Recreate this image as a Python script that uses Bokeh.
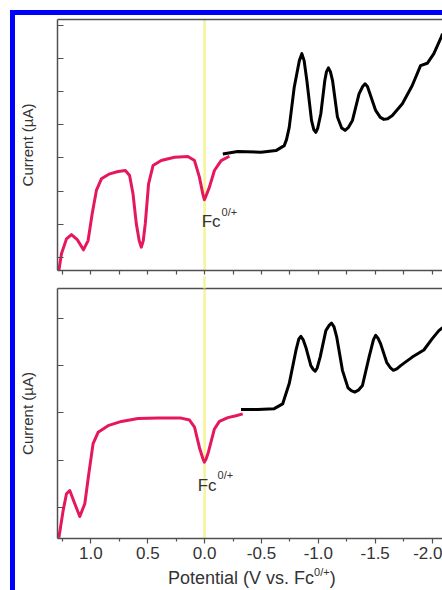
from bokeh.plotting import figure
from bokeh.layouts import column, row
from bokeh.models import Range1d, FixedTicker, LinearAxis, Span, Label, Div, Spacer
from bokeh.embed import file_html
from bokeh.resources import INLINE

FONT = "Liberation Sans"
RED = "#e5185d"
AXIS = "#505050"
TXT = "#333333"
BLUE = "#0000ff"
YELLOW = "#f6f39a"

# ---- data (potential V vs Fc0/+, current in arbitrary units) ----
top_red_v = [1.282, 1.259, 1.215, 1.171, 1.118, 1.066, 1.025, 0.989, 0.952, 0.908,
             0.835, 0.761, 0.697, 0.660, 0.630, 0.601, 0.575, 0.557, 0.540, 0.522, 0.493, 0.454,
             0.382, 0.265, 0.147, 0.089, 0.046, 0.015, 0.002, -0.012, -0.042, -0.086, -0.145, -0.218]
top_red_i = [-0.39, 0.11, 0.56, 0.69, 0.53, 0.23, 0.51, 1.32, 2.02, 2.37,
             2.52, 2.59, 2.62, 2.47, 1.92, 1.02, 0.50, 0.31, 0.50, 1.02, 2.22, 2.77,
             2.92, 3.02, 3.04, 2.92, 2.42, 1.90, 1.74, 1.85, 2.12, 2.62, 2.92, 3.05]

top_black_v = [-0.160, -0.291, -0.496, -0.627, -0.700, -0.720, -0.744, -0.788, -0.833, -0.855,
               -0.875, -0.899, -0.940, -0.960, -0.978, -0.995, -1.022, -1.057, -1.072, -1.089,
               -1.106, -1.125, -1.168, -1.205, -1.235, -1.265, -1.300, -1.358, -1.390, -1.411,
               -1.432, -1.454, -1.504, -1.545, -1.577, -1.610, -1.651, -1.739, -1.826, -1.899,
               -1.958, -2.016, -2.075, -2.092]
top_black_i = [3.12, 3.19, 3.17, 3.22, 3.37, 3.55, 3.92, 5.13, 5.93, 6.14,
               5.93, 5.33, 4.13, 3.85, 3.77, 3.90, 4.33, 5.33, 5.60, 5.71,
               5.60, 5.33, 4.23, 3.90, 3.83, 3.92, 4.13, 4.93, 5.15, 5.23,
               5.15, 4.93, 4.43, 4.22, 4.16, 4.18, 4.28, 4.63, 5.18, 5.78,
               5.85, 6.14, 6.59, 6.74]

bot_red_v = [1.282, 1.244, 1.215, 1.186, 1.142, 1.098, 1.054, 1.019, 0.981, 0.937,
             0.849, 0.732, 0.586, 0.411, 0.206, 0.133, 0.089, 0.046, 0.015, 0.002, -0.012, -0.033,
             -0.086, -0.130, -0.204, -0.276, -0.335]
bot_red_i = [-0.64, -0.06, 0.29, 0.36, 0.08, -0.19, 0.08, 0.71, 1.35, 1.59,
             1.73, 1.82, 1.88, 1.89, 1.89, 1.85, 1.70, 1.27, 1.03, 0.96, 1.02, 1.17,
             1.66, 1.82, 1.90, 1.94, 1.98]

bot_black_v = [-0.320, -0.467, -0.612, -0.686, -0.744, -0.803, -0.828, -0.846, -0.866, -0.890,
               -0.934, -0.955, -0.972, -0.990, -1.016, -1.066, -1.095, -1.116, -1.138, -1.162,
               -1.212, -1.261, -1.290, -1.320, -1.352, -1.388, -1.446, -1.485, -1.504, -1.525,
               -1.548, -1.601, -1.635, -1.660, -1.690, -1.724, -1.826, -1.928, -2.002, -2.060, -2.092]
bot_black_i = [2.07, 2.07, 2.09, 2.19, 2.62, 3.32, 3.56, 3.62, 3.55, 3.39,
               3.00, 2.92, 2.88, 2.95, 3.18, 3.74, 3.85, 3.90, 3.82, 3.60,
               2.90, 2.53, 2.47, 2.44, 2.48, 2.58, 3.18, 3.55, 3.64, 3.58,
               3.46, 3.07, 2.95, 2.90, 2.93, 3.00, 3.18, 3.33, 3.57, 3.74, 3.80]

x_major = [1.0, 0.5, 0.0, -0.5, -1.0, -1.5, -2.0]
x_labels = ["1.0", "0.5", "0.0", "-0.5", "-1.0", "-1.5", "-2.0"]
x_minor = [1.25, 0.75, 0.25, -0.25, -0.75, -1.25, -1.75]
top_yticks = [0, 1, 2, 3, 4, 5, 6, 7]
bot_yticks = [0, 1, 2, 3, 4]
fc_ref = [0.0]

X_LEFT, X_RIGHT = 1.294, -2.092
W = 427


def make_fig(height, yr, yticks, mbt, mbb, show_labels, gap_mark):
    p = figure(width=W, height=height,
               x_range=Range1d(X_LEFT, X_RIGHT), y_range=Range1d(*yr),
               output_backend="svg", toolbar_location=None,
               min_border_left=41, min_border_right=0,
               min_border_top=mbt, min_border_bottom=mbb)
    p.outline_line_color = None
    p.grid.visible = False
    p.background_fill_color = "white"
    p.border_fill_color = "white"

    xa = p.xaxis[0]
    if show_labels:
        xa.ticker = FixedTicker(ticks=x_major, minor_ticks=x_minor)
        xa.major_label_overrides = {v: s for v, s in zip(x_major, x_labels)}
        xa.major_label_text_font = FONT
        xa.major_label_text_font_size = "17px"
        xa.major_label_text_color = TXT
        xa.major_label_standoff = 3
        xa.major_tick_out = 5
    else:
        # label-less ticks: all drawn as minor ticks
        xa.ticker = FixedTicker(ticks=[], minor_ticks=x_major + x_minor)
        xa.major_tick_out = 0
        xa.major_label_standoff = 0
    xa.major_tick_in = 0
    xa.minor_tick_in = 0
    xa.minor_tick_out = 4 if not show_labels else 3
    xa.axis_line_color = AXIS
    xa.axis_line_width = 1.5
    xa.major_tick_line_color = AXIS
    xa.minor_tick_line_color = AXIS
    xa.major_tick_line_width = 1.2
    xa.minor_tick_line_width = 1.2

    ya = p.yaxis[0]
    ya.ticker = FixedTicker(ticks=[], minor_ticks=yticks)
    ya.major_tick_in = 0
    ya.major_tick_out = 0
    ya.minor_tick_in = 6
    ya.minor_tick_out = 0
    ya.minor_tick_line_color = AXIS
    ya.minor_tick_line_width = 1.2
    ya.axis_line_color = AXIS
    ya.axis_line_width = 1.5
    ya.axis_label = "Current (µA)"
    ya.axis_label_text_font = FONT
    ya.axis_label_text_font_size = "15px"
    ya.axis_label_text_font_style = "normal"
    ya.axis_label_text_color = TXT
    ya.axis_label_standoff = 22

    # top frame line; in the lower panel it also carries the yellow Fc marker across the gap
    top = LinearAxis(ticker=FixedTicker(ticks=[], minor_ticks=fc_ref if gap_mark else []),
                     major_tick_in=0, major_tick_out=0, major_label_standoff=0,
                     minor_tick_in=0, minor_tick_out=gap_mark,
                     minor_tick_line_color=YELLOW, minor_tick_line_width=2.5,
                     axis_line_color=AXIS, axis_line_width=1.5)
    p.add_layout(top, "above")

    p.add_layout(Span(location=0, dimension="height", line_color=YELLOW,
                      line_width=2.5, level="underlay"))
    return p


# top panel: canvas px 15..275, frame px 19..270
p1 = make_fig(260, (-0.392, 7.169), top_yticks, 4, 5, False, 0)
p1.line(top_red_v, top_red_i, line_color=RED, line_width=3, line_join="round")
p1.line(top_black_v, top_black_i, line_color="black", line_width=3, line_join="round")
p1.add_layout(Label(x=-0.140, y=1.093, text="Fc", text_align="right", text_baseline="alphabetic",
                    text_font=FONT, text_font_size="17px", text_color=TXT))
p1.add_layout(Label(x=-0.149, y=1.364, text="0/+", text_align="left", text_baseline="alphabetic",
                    text_font=FONT, text_font_size="11px", text_color=TXT))

# bottom panel: canvas px 275..566, frame px 288..538
p2 = make_fig(291, (-0.655, 4.630), bot_yticks, 13, 28, True, 12)
p2.line(bot_red_v, bot_red_i, line_color=RED, line_width=3, line_join="round")
p2.line(bot_black_v, bot_black_i, line_color="black", line_width=3, line_join="round")
p2.add_layout(Label(x=-0.105, y=0.465, text="Fc", text_align="right", text_baseline="alphabetic",
                    text_font=FONT, text_font_size="17px", text_color=TXT))
p2.add_layout(Label(x=-0.114, y=0.677, text="0/+", text_align="left", text_baseline="alphabetic",
                    text_font=FONT, text_font_size="11px", text_color=TXT))

# x-axis title with superscript
TITLE_H = 24
title = Div(
    text='<span style="margin-left:153px">Potential (V vs. Fc'
         '<sup style="font-size:11px; line-height:0; vertical-align:8px">0/+</sup>)</span>',
    width=W, height=TITLE_H, margin=0,
    styles={"font-family": FONT, "font-size": "18px", "line-height": f"{TITLE_H}px",
            "color": TXT, "white-space": "nowrap", "overflow": "visible",
            "background-color": "white"})

blue_top = Div(text="", width=5 + W, height=5, margin=0, styles={"background-color": BLUE})
blue_left = Div(text="", width=5, height=260 + 291 + TITLE_H, margin=0,
                styles={"background-color": BLUE})

layout = column(
    Spacer(height=10, width=10),
    row(Spacer(width=10, height=10),
        column(blue_top,
               row(blue_left, column(p1, p2, title, spacing=0), spacing=0),
               spacing=0),
        spacing=0),
    spacing=0)

open("out.html", "w").write(file_html(layout, INLINE))
